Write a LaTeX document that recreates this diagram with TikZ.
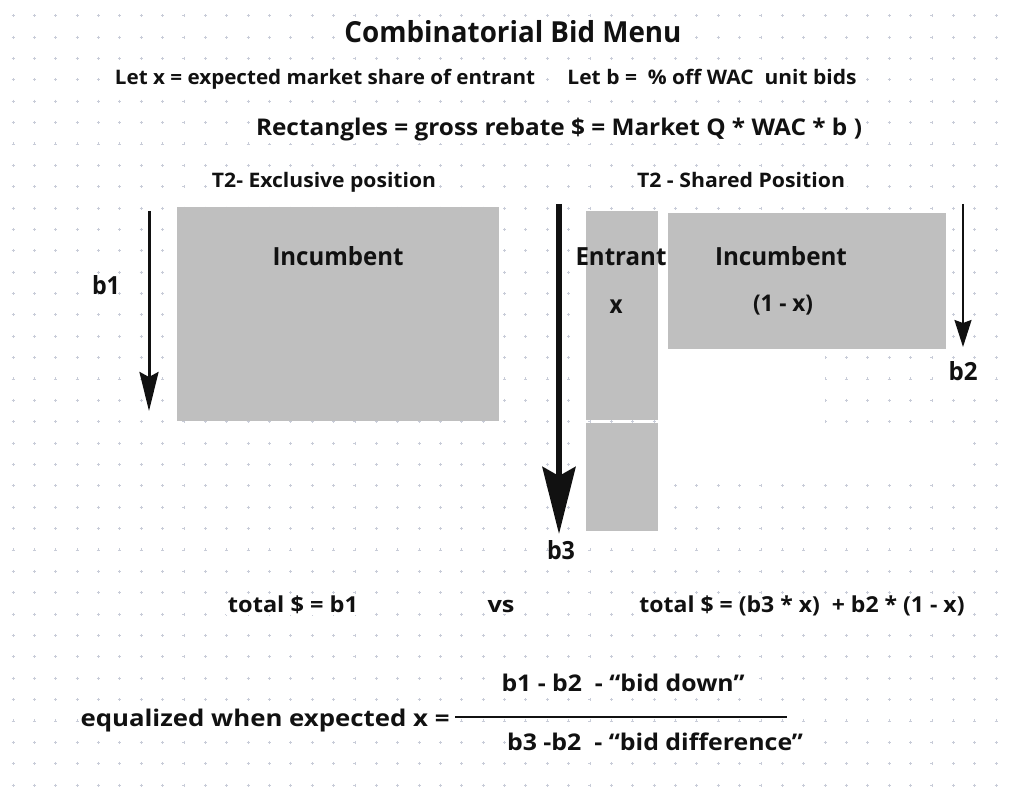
\documentclass[tikz,border=0pt]{standalone}
\usepackage{fontspec}
\setmainfont{Open Sans}
\usetikzlibrary{arrows.meta}
\definecolor{boxgray}{RGB}{191,191,191}
\definecolor{dotcol}{RGB}{200,204,216}
\definecolor{ink}{RGB}{17,17,17}
\newcommand\fitt[3]{{\fontsize{#1}{#1}\selectfont\resizebox{#2pt}{\height}{#3}}}
\begin{document}
\begin{tikzpicture}[x=1pt,y=-1pt,
  lbl/.style={inner sep=1.5pt, fill=white, text=ink, font=\bfseries, anchor=base},
  inlbl/.style={inner sep=0pt, text=ink, font=\bfseries, anchor=base},
  box/.style={fill=boxgray, draw=none, inner sep=0pt, anchor=north west},
  dotmark/.style={dotcol, line width=0.8pt}]
\useasboundingbox (0,0) rectangle (1010,802);
\fill[white] (0,0) rectangle (1010,802);
% dot grid
\foreach \i in {0,...,46}{\foreach \j in {0,...,36}{
  \draw[dotmark] ({13+21.37*\i-1.5},{15.7+21.37*\j}) -- ++(3,0)
                 ({13+21.37*\i},{15.7+21.37*\j-1.5}) -- ++(0,3);}}
% blank patches
\fill[white] (668,349) rectangle (825,480);
\fill[white] (825,423) rectangle (955,478);
% rectangles
\node[box, minimum width=322pt, minimum height=214pt] (incL) at (177,207) {};
\node[box, minimum width=72pt, minimum height=209pt] (entT) at (586,211) {};
\node[box, minimum width=72pt, minimum height=108pt] (entB) at (586,422.5) {};
\node[box, minimum width=278pt, minimum height=136pt] (incR) at (668,213) {};
% header texts
\node[lbl] (title) at (513,43) {\fitt{29}{337}{Combinatorial Bid Menu}};
\node[lbl] (letx) at (325,85) {\fitt{20}{420}{Let x = expected market share of entrant}};
\node[lbl] (letb) at (712,85) {\fitt{20}{289}{Let b = \ \% off WAC \ unit bids}};
\node[lbl] (rects) at (559,136) {\fitt{23}{606}{Rectangles = gross rebate \$ = Market Q * WAC * b )}};
\node[lbl] (t2ex) at (324,188) {\fitt{20}{224}{T2- Exclusive position}};
\node[lbl] (t2sh) at (741,188) {\fitt{20}{208}{T2 - Shared Position}};
% labels in boxes
\node[inlbl] (incLt) at (338,266) {\fitt{25}{131}{Incumbent}};
\node[inlbl] (entt) at (621,266) {\fitt{25}{91}{Entrant}};
\node[inlbl] (entx) at (616,314) {\fitt{25}{13}{x}};
\node[inlbl] (incRt) at (781,266) {\fitt{25}{132}{Incumbent}};
\node[inlbl] (incRx) at (783,312) {\fitt{23}{60}{(1 - x)}};
% arrows
\coordinate (b1s) at (149,211); \coordinate (b1e) at (149,411);
\coordinate (b3s) at (559,204); \coordinate (b3e) at (559,534);
\coordinate (b2s) at (963,204); \coordinate (b2e) at (963,347);
\draw[ink, line width=3pt, -{Stealth[length=39pt,width=19pt,inset=5pt]}] (b1s) -- (b1e);
\draw[ink, line width=6pt, -{Stealth[length=67pt,width=33pt,inset=9pt]}] (b3s) -- (b3e);
\draw[ink, line width=2pt, -{Stealth[length=27pt,width=17pt,inset=3pt]}] (b2s) -- (b2e);
\node[inlbl] (b1) at (106,295) {\fitt{25}{28}{b1}};
\node[inlbl] (b2) at (963,381) {\fitt{25}{29}{b2}};
\node[inlbl] (b3) at (561,559) {\fitt{25}{28}{b3}};
% bottom formulas
\node[lbl] (tot1) at (293,612) {\fitt{22}{130}{total \$ = b1}};
\node[lbl] (vs) at (501,612) {\fitt{22}{27}{vs}};
\node[lbl] (tot2) at (802,612) {\fitt{22}{325}{total \$ = (b3 * x) \ + b2 * (1 - x)}};
\node[lbl] (num) at (623,691) {\fitt{23}{243}{b1 - b2 \ - “bid down”}};
\node[lbl] (eq) at (265,726) {\fitt{23}{369}{equalized when expected x =}};
\node[lbl] (den) at (655,750) {\fitt{23}{296}{b3 -b2 \ - “bid difference”}};
\coordinate (fl) at (455,717); \coordinate (fr) at (787,717);
\draw[ink, line width=1.6pt] (fl) -- (fr);
\end{tikzpicture}
\end{document}
